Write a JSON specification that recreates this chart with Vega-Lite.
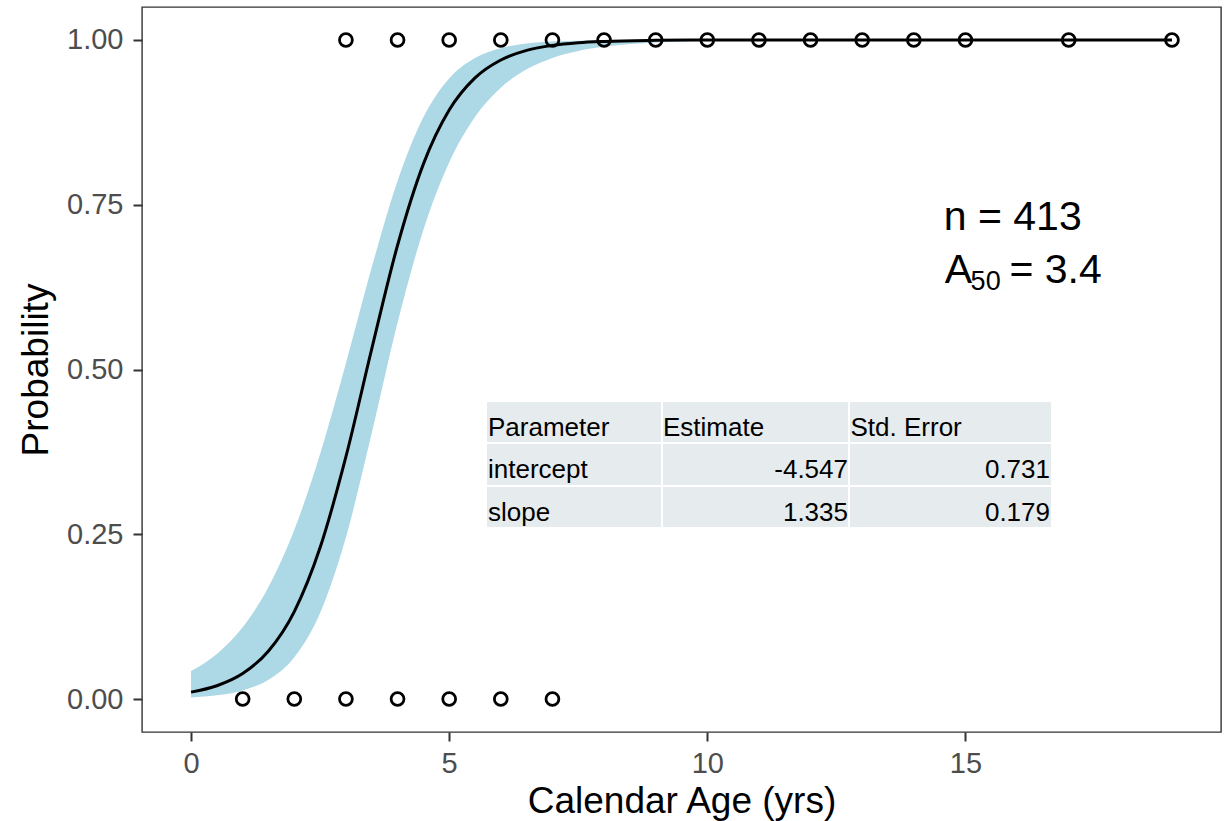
{
  "$schema": "https://vega.github.io/schema/vega-lite/v6.json",
  "width": 1079,
  "height": 725,
  "autosize": "none",
  "padding": {"left": 142, "top": 7, "right": 9, "bottom": 89},
  "background": "white",
  "config": {
    "font": "Liberation Sans",
    "view": {"stroke": "#333333", "strokeWidth": 1.4},
    "axis": {
      "grid": false,
      "domain": false,
      "tickColor": "#333333",
      "tickWidth": 2,
      "tickSize": 9,
      "labelColor": "#4D4D4D",
      "labelFont": "Liberation Sans",
      "labelFontSize": 29,
      "titleFont": "Liberation Sans",
      "titleFontSize": 37,
      "titleFontWeight": "normal",
      "titleColor": "#000000"
    }
  },
  "datasets": {
    "fit": [
      {"age": 0, "p": 0.0105, "lo": 0.0025, "hi": 0.0425},
      {"age": 0.5, "p": 0.0202, "lo": 0.0058, "hi": 0.0685},
      {"age": 1, "p": 0.0387, "lo": 0.0131, "hi": 0.109},
      {"age": 1.5, "p": 0.0728, "lo": 0.0292, "hi": 0.1699},
      {"age": 2, "p": 0.1327, "lo": 0.0635, "hi": 0.2568},
      {"age": 2.5, "p": 0.2298, "lo": 0.1307, "hi": 0.3718},
      {"age": 3, "p": 0.3677, "lo": 0.2455, "hi": 0.5096},
      {"age": 3.5, "p": 0.5313, "lo": 0.4036, "hi": 0.6551},
      {"age": 4, "p": 0.6885, "lo": 0.5709, "hi": 0.7859},
      {"age": 4.5, "p": 0.8116, "lo": 0.7117, "hi": 0.8826},
      {"age": 5, "p": 0.8936, "lo": 0.8141, "hi": 0.9415},
      {"age": 5.5, "p": 0.9424, "lo": 0.883, "hi": 0.9726},
      {"age": 6, "p": 0.9696, "lo": 0.9275, "hi": 0.9876},
      {"age": 6.5, "p": 0.9842, "lo": 0.9554, "hi": 0.9945},
      {"age": 7, "p": 0.9918, "lo": 0.9728, "hi": 0.9976},
      {"age": 7.5, "p": 0.9958, "lo": 0.9834, "hi": 0.9989},
      {"age": 8, "p": 0.9978, "lo": 0.9899, "hi": 0.9995},
      {"age": 9, "p": 0.9994, "lo": 0.9963, "hi": 0.9999},
      {"age": 10, "p": 0.9999, "lo": 0.9986, "hi": 1},
      {"age": 12, "p": 1, "lo": 0.9998, "hi": 1},
      {"age": 15, "p": 1, "lo": 1, "hi": 1},
      {"age": 19, "p": 1, "lo": 1, "hi": 1}
    ],
    "obs": [
      {"age": 1, "mature": 0},
      {"age": 2, "mature": 0},
      {"age": 3, "mature": 0},
      {"age": 4, "mature": 0},
      {"age": 5, "mature": 0},
      {"age": 6, "mature": 0},
      {"age": 7, "mature": 0},
      {"age": 3, "mature": 1},
      {"age": 4, "mature": 1},
      {"age": 5, "mature": 1},
      {"age": 6, "mature": 1},
      {"age": 7, "mature": 1},
      {"age": 8, "mature": 1},
      {"age": 9, "mature": 1},
      {"age": 10, "mature": 1},
      {"age": 11, "mature": 1},
      {"age": 12, "mature": 1},
      {"age": 13, "mature": 1},
      {"age": 14, "mature": 1},
      {"age": 15, "mature": 1},
      {"age": 17, "mature": 1},
      {"age": 19, "mature": 1}
    ],
    "coefTable": [
      {"row": "header", "term": "Parameter", "estimate": "Estimate", "se": "Std. Error", "top": 0.4522, "bottom": 0.3885},
      {"row": "body", "term": "intercept", "estimate": "-4.547", "se": "0.731", "top": 0.3885, "bottom": 0.3232},
      {"row": "body", "term": "slope", "estimate": "1.335", "se": "0.179", "top": 0.3232, "bottom": 0.2595}
    ]
  },
  "layer": [
    {
      "data": {"name": "fit"},
      "mark": {"type": "area", "color": "#ADD8E6", "opacity": 1, "interpolate": "monotone"},
      "encoding": {
        "x": {
          "field": "age", "type": "quantitative",
          "scale": {"domain": [-0.95, 19.95], "nice": false, "zero": false},
          "axis": {
            "title": "Calendar Age (yrs)",
            "values": [0, 5, 10, 15],
            "labelPadding": 8,
            "titleX": 539.5,
            "titleY": 80,
            "titleBaseline": "alphabetic"
          }
        },
        "y": {
          "field": "lo", "type": "quantitative",
          "scale": {"domain": [-0.05, 1.05], "nice": false, "zero": false},
          "axis": {
            "title": "Probability",
            "values": [0, 0.25, 0.5, 0.75, 1],
            "format": ".2f",
            "labelPadding": 10,
            "titleX": -106,
            "titleY": 362.5,
            "titleAngle": -90,
            "titleAlign": "center",
            "titleBaseline": "middle"
          }
        },
        "y2": {"field": "hi"}
      }
    },
    {
      "data": {"name": "fit"},
      "mark": {"type": "line", "color": "#000000", "strokeWidth": 3, "interpolate": "monotone"},
      "encoding": {
        "x": {"field": "age", "type": "quantitative"},
        "y": {"field": "p", "type": "quantitative"}
      }
    },
    {
      "data": {"name": "obs"},
      "mark": {"type": "point", "shape": "circle", "filled": false, "stroke": "#000000", "strokeWidth": 2.8, "size": 165, "opacity": 1},
      "encoding": {
        "x": {"field": "age", "type": "quantitative"},
        "y": {"field": "mature", "type": "quantitative"}
      }
    },
    {
      "data": {"name": "coefTable"},
      "mark": {"type": "rect", "fill": "#E6EBED", "stroke": "white", "strokeWidth": 2},
      "encoding": {
        "x": {"datum": 5.713, "type": "quantitative"},
        "x2": {"datum": 9.122},
        "y": {"field": "top", "type": "quantitative"},
        "y2": {"field": "bottom"}
      }
    },
    {
      "data": {"name": "coefTable"},
      "mark": {"type": "rect", "fill": "#E6EBED", "stroke": "white", "strokeWidth": 2},
      "encoding": {
        "x": {"datum": 9.122, "type": "quantitative"},
        "x2": {"datum": 12.744},
        "y": {"field": "top", "type": "quantitative"},
        "y2": {"field": "bottom"}
      }
    },
    {
      "data": {"name": "coefTable"},
      "mark": {"type": "rect", "fill": "#E6EBED", "stroke": "white", "strokeWidth": 2},
      "encoding": {
        "x": {"datum": 12.744, "type": "quantitative"},
        "x2": {"datum": 16.676},
        "y": {"field": "top", "type": "quantitative"},
        "y2": {"field": "bottom"}
      }
    },
    {
      "data": {"name": "coefTable"},
      "mark": {"type": "text", "align": "left", "baseline": "alphabetic", "dy": 35, "fontSize": 26, "color": "#000000"},
      "encoding": {
        "x": {"datum": 5.752, "type": "quantitative"},
        "y": {"field": "top", "type": "quantitative"},
        "text": {"field": "term"}
      }
    },
    {
      "data": {"name": "coefTable"},
      "transform": [{"filter": "datum.row === 'header'"}],
      "mark": {"type": "text", "align": "left", "baseline": "alphabetic", "dy": 35, "fontSize": 26, "color": "#000000"},
      "encoding": {
        "x": {"datum": 9.142, "type": "quantitative"},
        "y": {"field": "top", "type": "quantitative"},
        "text": {"field": "estimate"}
      }
    },
    {
      "data": {"name": "coefTable"},
      "transform": [{"filter": "datum.row === 'header'"}],
      "mark": {"type": "text", "align": "left", "baseline": "alphabetic", "dy": 35, "fontSize": 26, "color": "#000000"},
      "encoding": {
        "x": {"datum": 12.774, "type": "quantitative"},
        "y": {"field": "top", "type": "quantitative"},
        "text": {"field": "se"}
      }
    },
    {
      "data": {"name": "coefTable"},
      "transform": [{"filter": "datum.row === 'body'"}],
      "mark": {"type": "text", "align": "right", "baseline": "alphabetic", "dy": 35, "fontSize": 26, "color": "#000000"},
      "encoding": {
        "x": {"datum": 12.725, "type": "quantitative"},
        "y": {"field": "top", "type": "quantitative"},
        "text": {"field": "estimate"}
      }
    },
    {
      "data": {"name": "coefTable"},
      "transform": [{"filter": "datum.row === 'body'"}],
      "mark": {"type": "text", "align": "right", "baseline": "alphabetic", "dy": 35, "fontSize": 26, "color": "#000000"},
      "encoding": {
        "x": {"datum": 16.638, "type": "quantitative"},
        "y": {"field": "top", "type": "quantitative"},
        "text": {"field": "se"}
      }
    },
    {
      "data": {"values": [{}]},
      "mark": {"type": "text", "align": "left", "baseline": "alphabetic", "fontSize": 41, "color": "#000000"},
      "encoding": {
        "x": {"datum": 14.58, "type": "quantitative"},
        "y": {"datum": 0.7124, "type": "quantitative"},
        "text": {"value": "n = 413"}
      }
    },
    {
      "data": {"values": [{}]},
      "mark": {"type": "text", "align": "left", "baseline": "alphabetic", "fontSize": 41, "color": "#000000"},
      "encoding": {
        "x": {"datum": 14.6, "type": "quantitative"},
        "y": {"datum": 0.6308, "type": "quantitative"},
        "text": {"value": "A"}
      }
    },
    {
      "data": {"values": [{}]},
      "mark": {"type": "text", "align": "left", "baseline": "alphabetic", "fontSize": 27, "color": "#000000"},
      "encoding": {
        "x": {"datum": 15.1, "type": "quantitative"},
        "y": {"datum": 0.62, "type": "quantitative"},
        "text": {"value": "50"}
      }
    },
    {
      "data": {"values": [{}]},
      "mark": {"type": "text", "align": "left", "baseline": "alphabetic", "fontSize": 41, "color": "#000000"},
      "encoding": {
        "x": {"datum": 15.853, "type": "quantitative"},
        "y": {"datum": 0.6308, "type": "quantitative"},
        "text": {"value": "= 3.4"}
      }
    }
  ]
}
